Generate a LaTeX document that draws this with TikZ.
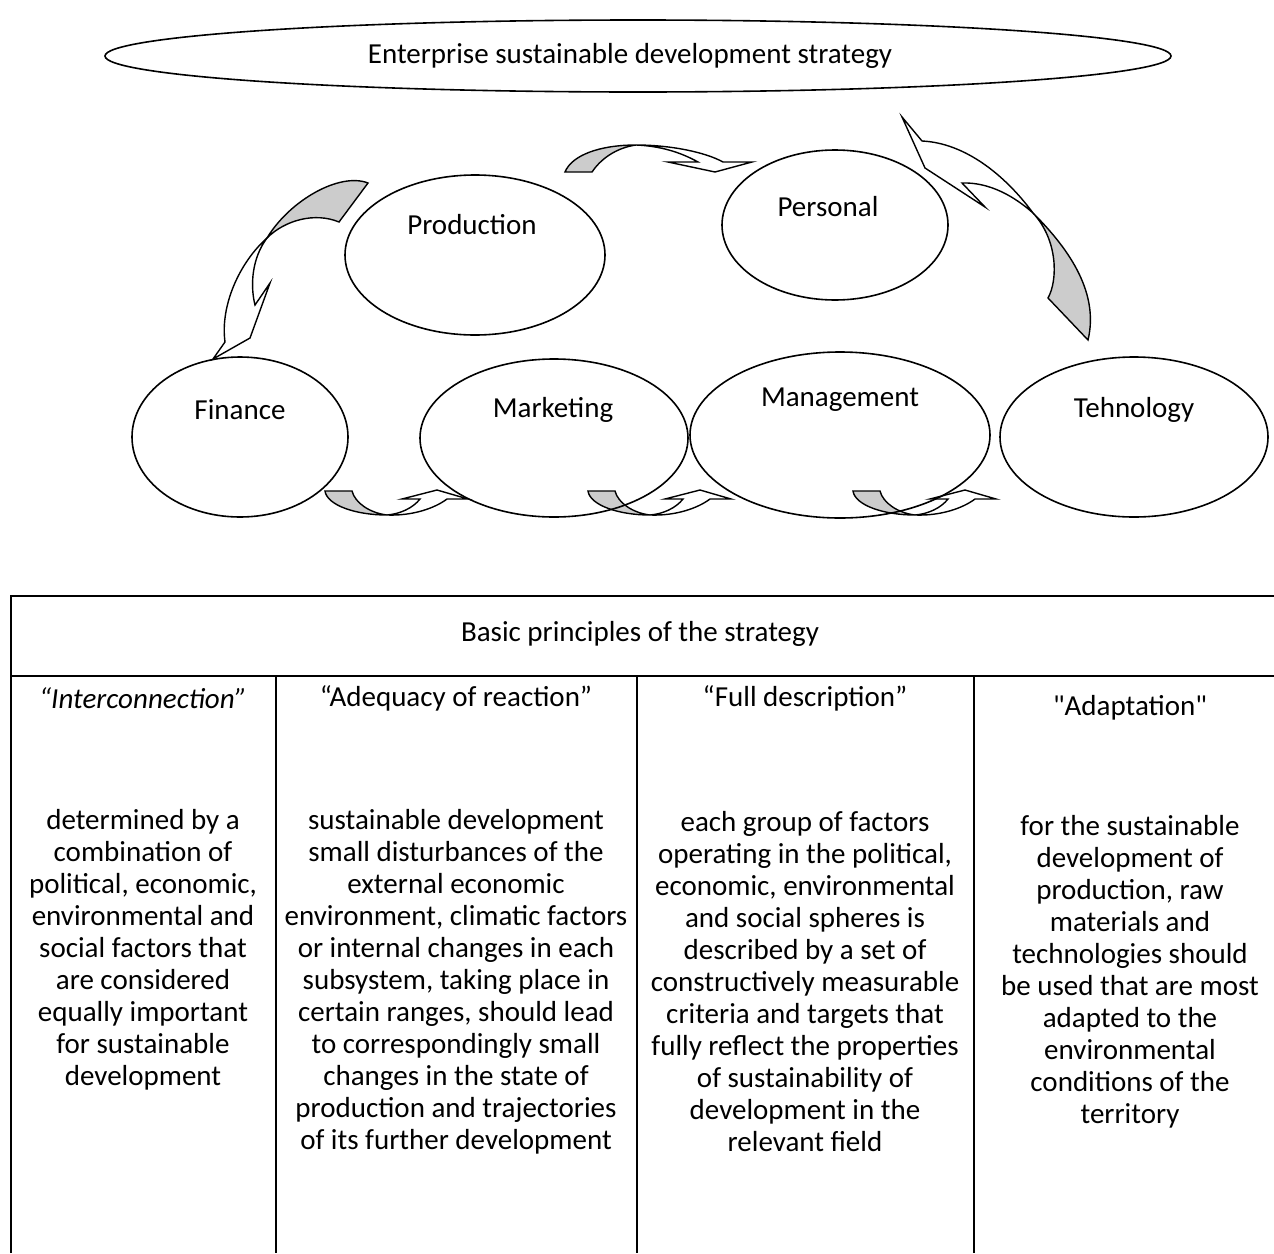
\documentclass[tikz,border=0pt]{standalone}
\usepackage{fontspec}
\setmainfont{Carlito}
\usetikzlibrary{shapes.geometric}
\newcommand{\straightq}{{\XeTeXglyph\XeTeXcharglyph"22\relax}}
\begin{document}
\begin{tikzpicture}[x=1pt,y=-1pt,
 oval/.style={draw,ellipse,line width=1.6pt,inner sep=0pt},
 lbl/.style={font=\fontsize{29}{32}\selectfont,inner sep=0pt},
 cell/.style={font=\fontsize{29}{32}\selectfont,align=center,inner sep=0pt},
 ribbon/.style={draw,line width=1.4pt,fill=white,line join=miter},
 ribbonback/.style={draw,line width=1.4pt,fill=black!20,line join=miter},
 rule/.style={line width=1.6pt}]
\useasboundingbox (0,0) rectangle (1274,1253);

% ---------- curved arrows ----------
% left arrow (towards Finance)
\path[ribbon] (267,238) .. controls (240,262) and (220,305) .. (225,342)
  -- (213,359) -- (250,338) -- (270,283) -- (255,305)
  .. controls (250,285) and (252,258) .. (267,238) -- cycle;
\path[ribbonback] (368,183) .. controls (340,172) and (290,200) .. (267,238)
  .. controls (285,220) and (315,212) .. (339,222) -- cycle;
% top arrow (Production -> Personal)
\path[ribbon] (636,145) .. controls (670,145) and (705,152) .. (723,162)
  -- (752,162) -- (715,172) -- (668,162) -- (698,162)
  .. controls (680,152) and (660,146) .. (636,145) -- cycle;
\path[ribbonback] (565,172) .. controls (572,155) and (600,145) .. (636,145)
  .. controls (615,148) and (600,160) .. (592,172) -- cycle;
% right arrow (Personal -> Tehnology)
\path[ribbon] (902,117) -- (922,141) .. controls (965,143) and (1005,175) .. (1033,213)
  .. controls (1015,197) and (990,182) .. (962,183) -- (985,207) -- (925,168) -- cycle;
\path[ribbonback] (1033,213) .. controls (1065,245) and (1100,290) .. (1088,340)
  -- (1048,298) .. controls (1058,280) and (1058,240) .. (1033,213) -- cycle;
% bottom arrows
\foreach \X in {325,588,853}{
\begin{scope}[shift={(\X,0)}]
\path[ribbon] (62,515) .. controls (88,516) and (110,508) .. (122,499)
  -- (143,499) -- (112,490) -- (77,499) -- (95,499)
  .. controls (88,508) and (75,514) .. (62,515) -- cycle;
\path[ribbonback] (0,491) .. controls (2,505) and (30,515) .. (62,515)
  .. controls (45,513) and (30,503) .. (27,491) -- cycle;
\end{scope}}

% ---------- ellipses ----------
\node[oval,minimum width=1066pt,minimum height=72pt] (strat) at (638,56) {};
\node[lbl] (stratT) at (630,56) {Enterprise sustainable development strategy};
\node[oval,minimum width=260pt,minimum height=160pt] (prod) at (475,255) {};
\node[lbl] (prodT) at (472,225) {Production};
\node[oval,minimum width=226pt,minimum height=150pt] (pers) at (835,225) {};
\node[lbl] (persT) at (828,207) {Personal};
\node[oval,minimum width=216pt,minimum height=160pt] (fin) at (240,437) {};
\node[lbl] (finT) at (240,410) {Finance};
\node[oval,minimum width=268pt,minimum height=158pt] (mkt) at (554,438) {};
\node[lbl] (mktT) at (553,410) {Marketing};
\node[oval,minimum width=300pt,minimum height=166pt] (mgmt) at (840,435) {};
\node[lbl] (mgmtT) at (840,400) {Management};
\node[oval,minimum width=268pt,minimum height=160pt] (tech) at (1134,437) {};
\node[lbl] (techT) at (1134,410) {Tehnology};

% ---------- table ----------
\draw[rule] (11,1253) -- (11,596) -- (1274,596);
\draw[rule] (11,676) -- (1274,676);
\draw[rule] (276,676) -- (276,1253);
\draw[rule] (637,676) -- (637,1253);
\draw[rule] (974,676) -- (974,1253);

\node[lbl] (head) at (640,634) {Basic principles of the strategy};
\node[lbl] (h1) at (143,698) {\itshape “Interconnection”};
\node[lbl] (h2) at (456,698) {“Adequacy of reaction”};
\node[lbl] (h3) at (805,698) {“Full description”};
\node[lbl] (h4) at (1130,708) {\straightq Adaptation\straightq};

\node[cell] (c1) at (143,950) {determined by a\\combination of\\political, economic,\\environmental and\\social factors that\\are considered\\equally important\\for sustainable\\development};
\node[cell] (c2) at (456,982) {sustainable development\\small disturbances of the\\external economic\\environment, climatic factors\\or internal changes in each\\subsystem, taking place in\\certain ranges, should lead\\to correspondingly small\\changes in the state of\\production and trajectories\\of its further development};
\node[cell] (c3) at (805,982) {each group of factors\\operating in the political,\\economic, environmental\\and social spheres is\\described by a set of\\constructively measurable\\criteria and targets that\\fully reflect the properties\\of sustainability of\\development in the\\relevant field};
\node[cell] (c4) at (1130,972) {for the sustainable\\development of\\production, raw\\materials and\\technologies should\\be used that are most\\adapted to the\\environmental\\conditions of the\\territory};
\end{tikzpicture}
\end{document}
